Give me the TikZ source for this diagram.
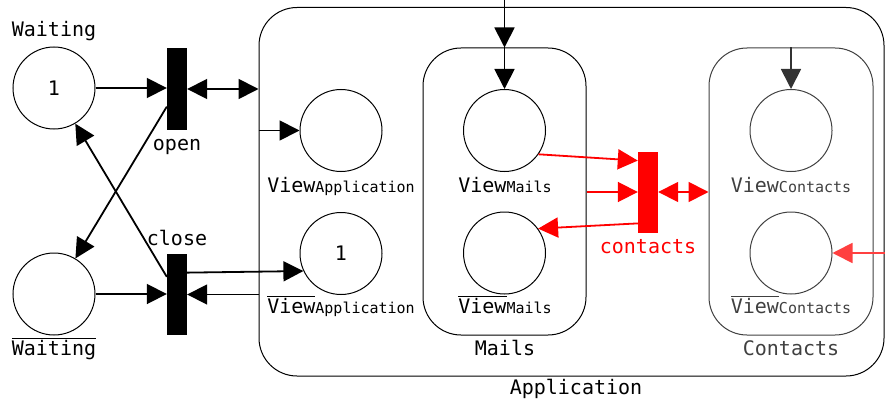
\documentclass[tikz,border=0pt]{standalone}
\usepackage{fontspec}
\setmainfont{DejaVu Sans Mono}
\usetikzlibrary{arrows.meta,positioning,calc}

\newcommand{\ovl}[1]{$\overline{\hbox{#1}}$}
\newcommand{\viewsub}[1]{{\fontsize{15}{18}\selectfont #1}}

\begin{document}
\begin{tikzpicture}[
    x=1pt, y=-1pt,
    place/.style={circle, draw, line width=1pt, minimum size=82pt, inner sep=0pt, font=\fontsize{20}{24}\selectfont},
    trans/.style={rectangle, fill=#1, minimum width=20pt, minimum height=81pt, inner sep=0pt},
    trans/.default=black,
    group/.style={rectangle, draw, line width=1pt, rounded corners=38pt},
    arr/.style={-{Triangle[length=20pt, width=20pt]}, line width=1.8pt},
    darr/.style={{Triangle[length=20pt, width=20pt]}-{Triangle[length=20pt, width=20pt]}, line width=1.8pt},
    lbl/.style={anchor=base, inner sep=0pt, font=\fontsize{20}{24}\selectfont}
]
\useasboundingbox (0,0) rectangle (885,401);

% Groups
\node[group, minimum width=625pt, minimum height=368.5pt] (app) at (571.5,191.75) {};
\node[group, minimum width=163pt, minimum height=287pt] (mails) at (504.5,191.5) {};
\node[group, draw=black!75, minimum width=164pt, minimum height=287pt] (cont) at (791,191.5) {};
\node[lbl] (appl) at (576,394) {Application};
\node[lbl] (maill) at (505,355) {Mails};
\node[lbl, text=black!75] (contl) at (791,355) {Contacts};

% Waiting places and window transitions
\node[place] (wait) at (54,88) {1};
\node[place] (nwait) at (54,294) {};
\node[trans] (open) at (177,89) {};
\node[trans] (close) at (177,294.5) {};
\node[lbl] (waitl) at (54,37) {Waiting};
\node[lbl] (nwaitl) at (54,355) {\ovl{Waiting}};
\node[lbl] (openl) at (177,150) {open};
\node[lbl] (closel) at (177,245) {close};

% Application places
\node[place] (va) at (341,130.5) {};
\node[place] (nva) at (341,253.5) {1};
\node[lbl] (val) at (341,192) {View\viewsub{Application}};
\node[lbl] (nval) at (341,313) {\ovl{View}\viewsub{Application}};

% Mails places
\node[place] (vm) at (504.5,130.5) {};
\node[place] (nvm) at (504.5,253) {};
\node[lbl] (vml) at (505,192) {View\viewsub{Mails}};
\node[lbl] (nvml) at (505,313) {\ovl{View}\viewsub{Mails}};

% Contacts places
\node[place, draw=black!75] (vc) at (791,130.5) {};
\node[place, draw=black!75] (nvc) at (791,253) {};
\node[lbl, text=black!75] (vcl) at (791,192) {View\viewsub{Contacts}};
\node[lbl, text=black!75] (nvcl) at (791,313) {\ovl{View}\viewsub{Contacts}};

% contacts transition
\node[trans=red] (ct) at (648,192) {};
\node[lbl, text=red] (ctl) at (648,253) {contacts};

\coordinate (mtop) at (504.5,0);
\coordinate (cin) at (885,253);

% Arcs
\draw[arr] (wait.east) -- (wait.east -| open.west);
\draw[darr] (open.east) -- (open.east -| app.west);
\draw[arr] (open.240) -- (nwait);
\draw[arr] (close.120) -- (wait);
\draw[arr] (nwait.east) -- (nwait.east -| close.west);
\draw[arr] (close.east -| app.west) -- (close.east);
\draw[arr] (close.65) -- (nva.205);
\draw[arr] (va.west -| app.west) -- (va.west);
\draw[arr] (mtop) -- (mails.north);
\draw[arr] (mails.north) -- (vm.north);
\draw[arr, black!80] (cont.north) -- (vc.north);

% contacts arcs
\draw[arr, red] (vm.325) -- (ct.108);
\draw[arr, red] (ct.west -| mails.east) -- (ct.west);
\draw[arr, red] (ct.252) -- (nvm.36);
\draw[darr, red] (ct.east) -- (ct.east -| cont.west);
\draw[arr, red!75] (cin) -- (nvc.east);

\end{tikzpicture}
\end{document}
